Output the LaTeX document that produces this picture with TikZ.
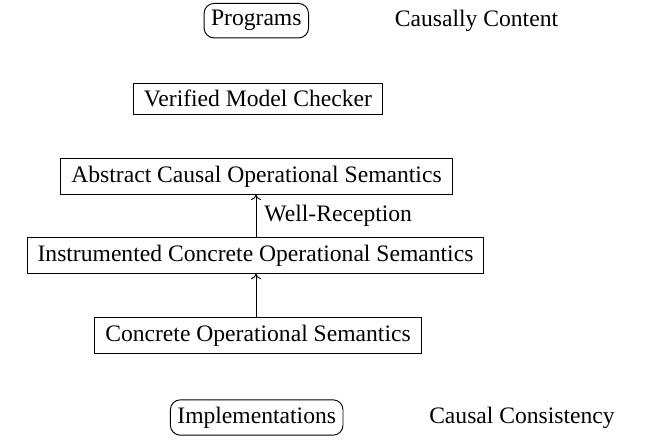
\documentclass[tikz,border=0pt]{standalone}
\usepackage{fontspec}
\setmainfont{Liberation Serif}
\usetikzlibrary{arrows.meta}
\begin{document}
\begin{tikzpicture}[x=1pt,y=1pt,
  every node/.style={font=\fontsize{23.6}{28}\selectfont},
  box/.style={draw, line width=0.95pt, inner xsep=10.5pt, inner ysep=7pt},
  rbox/.style={box, rounded corners=10pt, inner xsep=7pt},
  plain/.style={inner sep=0pt},
  arr/.style={-{To[length=5.5pt,width=10pt]}, line width=0.95pt}]
\useasboundingbox (0,0) rectangle (650,-444);
\node[rbox] (prog) at (256.3,-20.7) {Programs};
\node[plain] (cc) at (476.5,-20.7) {Causally Content};
\node[box] (vmc) at (258,-98.7) {Verified Model Checker};
\node[box] (acos) at (256.5,-176.4) {Abstract Causal Operational Semantics};
\node[box] (icos) at (255.5,-255.5) {Instrumented Concrete Operational Semantics};
\node[box] (cos) at (258,-335.5) {Concrete Operational Semantics};
\node[rbox] (impl) at (256.7,-417.5) {Implementations};
\node[plain] (ccons) at (522,-417.5) {Causal Consistency};
\draw[arr] (icos.north -| 256,0) -- node[right, inner xsep=8pt, inner ysep=0pt] {Well-Reception} (acos.south -| 256,0);
\draw[arr] (cos.north -| 256,0) -- (icos.south -| 256,0);
\end{tikzpicture}
\end{document}
